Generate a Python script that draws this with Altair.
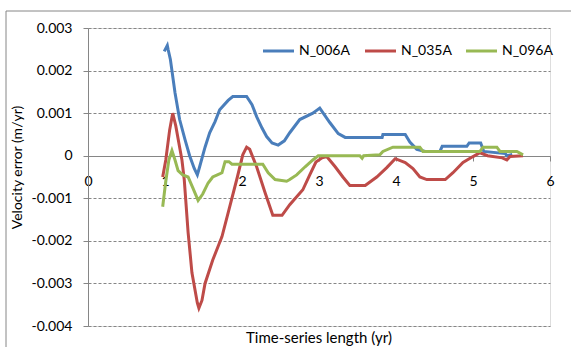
import altair as alt
import pandas as pd

series_names = ["N_006A", "N_035A", "N_096A"]
series_colors = ["#4A7EBB", "#BE4B48", "#98B954"]

blue_x = [0.99, 1.03, 1.04, 1.07, 1.13, 1.19, 1.26, 1.32, 1.38, 1.42, 1.45, 1.52, 1.58, 1.65,
          1.71, 1.82, 1.88, 2.06, 2.13, 2.19, 2.26, 2.32, 2.39, 2.47, 2.55, 2.62, 2.75, 2.92,
          3.01, 3.14, 3.25, 3.34, 3.82, 3.83, 4.12, 4.18, 4.27, 4.38, 4.57, 4.60, 4.92, 4.95,
          5.10, 5.14, 5.42, 5.44, 5.51]
blue_y = [0.00245, 0.00259, 0.00250, 0.00226, 0.00148, 0.00085, 0.00038, 0.00000, -0.00030,
          -0.00045, -0.00026, 0.00020, 0.00054, 0.00080, 0.00108, 0.00130, 0.00139, 0.00139,
          0.00120, 0.00092, 0.00065, 0.00045, 0.00030, 0.00025, 0.00035, 0.00054, 0.00085,
          0.00100, 0.00112, 0.00078, 0.00052, 0.00043, 0.00043, 0.00050, 0.00050, 0.00032,
          0.00015, 0.00010, 0.00010, 0.00022, 0.00022, 0.00030, 0.00030, 0.00010, 0.00005,
          0.00000, 0.00003]

red_x = [0.97, 1.01, 1.06, 1.10, 1.14, 1.18, 1.22, 1.25, 1.30, 1.35, 1.42, 1.44, 1.48, 1.52,
         1.62, 1.74, 1.84, 1.94, 2.01, 2.06, 2.10, 2.19, 2.30, 2.40, 2.52, 2.62, 2.79, 2.88,
         2.96, 3.04, 3.10, 3.21, 3.31, 3.40, 3.60, 3.75, 3.88, 3.99, 4.12, 4.22, 4.31, 4.40,
         4.64, 4.74, 4.87, 5.00, 5.09, 5.19, 5.38, 5.44, 5.48, 5.65]
red_y = [-0.00050, -0.00010, 0.00060, 0.00100, 0.00070, 0.00030, -0.00010, -0.00056, -0.00180,
         -0.00275, -0.00346, -0.00358, -0.00340, -0.00300, -0.00245, -0.00190, -0.00120,
         -0.00050, 0.00002, 0.00020, 0.00015, -0.00026, -0.00087, -0.00140, -0.00140, -0.00115,
         -0.00080, -0.00045, -0.00015, -0.00005, -0.00002, -0.00026, -0.00050, -0.00070,
         -0.00070, -0.00050, -0.00028, -0.00007, -0.00016, -0.00030, -0.00050, -0.00056,
         -0.00056, -0.00040, -0.00016, -0.00002, 0.00007, 0.00000, -0.00005, -0.00010,
         -0.00002, 0.00000]

green_x = [0.97, 1.01, 1.05, 1.09, 1.13, 1.17, 1.23, 1.30, 1.36, 1.43, 1.49, 1.56, 1.62, 1.68,
           1.74, 1.78, 1.83, 1.87, 2.27, 2.34, 2.43, 2.58, 2.62, 2.71, 2.82, 2.92, 2.99, 3.53,
           3.56, 3.58, 3.79, 3.83, 3.96, 4.31, 4.35, 5.09, 5.13, 5.31, 5.35, 5.57, 5.65]
green_y = [-0.00120, -0.00060, -0.00010, 0.00012, -0.00010, -0.00035, -0.00045, -0.00050,
           -0.00075, -0.00105, -0.00090, -0.00064, -0.00050, -0.00045, -0.00040, -0.00014,
           -0.00014, -0.00020, -0.00020, -0.00040, -0.00056, -0.00060, -0.00056, -0.00045,
           -0.00026, -0.00010, 0.00000, 0.00000, -0.00006, 0.00000, 0.00002, 0.00010, 0.00020,
           0.00020, 0.00010, 0.00010, 0.00020, 0.00020, 0.00010, 0.00010, 0.00002]

x_ticks = [0, 1, 2, 3, 4, 5, 6]
y_ticks = [0.003, 0.002, 0.001, 0.0, -0.001, -0.002, -0.003, -0.004]

rows = []
for name, xs, ys in zip(series_names, [blue_x, red_x, green_x], [blue_y, red_y, green_y]):
    for i, (a, b) in enumerate(zip(xs, ys)):
        rows.append({"series": name, "x": a, "y": b, "order": i})
df = pd.DataFrame(rows)

FONT = "Lato"
GRAY = "#868686"
color_scale = alt.Scale(domain=series_names, range=series_colors)

lines = alt.Chart(df).mark_line(strokeWidth=3).encode(
    x=alt.X("x:Q", scale=alt.Scale(domain=[0, 6], nice=False),
            axis=alt.Axis(values=x_ticks, offset=-170, grid=False, title=None,
                          domainColor=GRAY, tickColor=GRAY, tickSize=5,
                          labelPadding=13, labelFont=FONT, labelFontSize=14,
                          labelFlush=False, labelOverlap=False,
                          labelColor="#000000", format="d", zindex=0)),
    y=alt.Y("y:Q", scale=alt.Scale(domain=[-0.004, 0.003], nice=False),
            axis=alt.Axis(values=y_ticks, title="Velocity error (m/yr)",
                          titleFont=FONT, titleFontSize=14, titleFontWeight="normal",
                          titleColor="#000000", titleX=-71, titleY=139,
                          titleAngle=270, titleBaseline="middle", titleAlign="center",
                          domainColor=GRAY, tickColor=GRAY, tickSize=5,
                          labelPadding=11, labelFont=FONT, labelFontSize=14,
                          labelFlush=False, labelOverlap=False,
                          labelColor="#000000", grid=True, gridColor=GRAY,
                          gridDash=[3, 2], gridWidth=1, zindex=0,
                          labelExpr="abs(datum.value) < 1e-9 ? '0' : (datum.value < 0 ? '-' + format(-datum.value, '.3f') : format(datum.value, '.3f'))")),
    color=alt.Color("series:N", scale=color_scale, legend=None),
    order="order:Q",
)

frame = alt.Chart(pd.DataFrame({"k": [0]})).mark_rect(
    fill="transparent", stroke=GRAY, strokeWidth=1
).encode(x=alt.value(-82), x2=alt.value(700), y=alt.value(-17), y2=alt.value(500))

xtitle = alt.Chart(pd.DataFrame({"t": ["Time-series length (yr)"]})).mark_text(
    font=FONT, fontSize=15, color="#000000", baseline="middle", align="center"
).encode(text="t:N", x=alt.value(231), y=alt.value(310))

# manual legend (horizontal, top right)
legend_x = [175, 277, 378]
legend_layers = []
for name, col, lx in zip(series_names, series_colors, legend_x):
    ldf = pd.DataFrame({"series": [name]})
    legend_layers.append(
        alt.Chart(ldf).mark_rule(strokeWidth=3, color=col).encode(
            x=alt.value(lx), x2=alt.value(lx + 31), y=alt.value(23))
    )
    legend_layers.append(
        alt.Chart(ldf).mark_text(font=FONT, fontSize=14, color="#000000",
                                 align="left", baseline="middle").encode(
            text="series:N", x=alt.value(lx + 36), y=alt.value(23))
    )

chart = alt.layer(frame, lines, xtitle, *legend_layers).properties(
    width=462, height=298,
    padding={"left": 88, "top": 28, "right": 21, "bottom": 21},
    autosize=alt.AutoSizeParams(type="none"),
).configure_view(strokeWidth=0).configure(background="white")

chart.save("out.html", embed_options={"renderer": "svg", "actions": False})
